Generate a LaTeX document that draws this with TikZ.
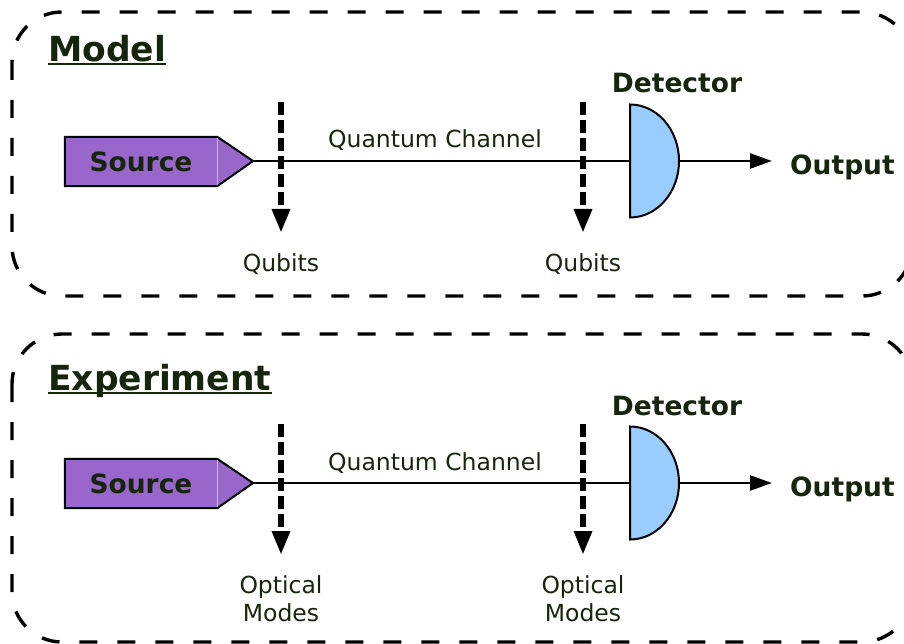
\documentclass[tikz,border=0pt]{standalone}
\usepackage{fontspec}
\setmainfont{DejaVu Sans}
\usetikzlibrary{arrows.meta,positioning,backgrounds}

\definecolor{ink}{RGB}{22,38,12}
\definecolor{srcpurple}{HTML}{9966CC}
\definecolor{detblue}{HTML}{99CCFF}

\tikzset{
  panel/.style={line width=3.4pt, dash pattern=on 18pt off 20pt, rounded corners=50pt},
  wire/.style={line width=2.5pt},
  probe/.style={line width=6pt, dash pattern=on 13pt off 5pt, -{Triangle[length=24pt,width=17pt]}},
  srcbox/.style={draw, line width=2pt, fill=srcpurple, line join=miter},
  detbox/.style={draw, line width=2pt, fill=detblue},
  heading/.style={text=ink, font=\fontsize{34.5}{40}\selectfont\bfseries, inner sep=0pt},
  bold/.style={text=ink, font=\fontsize{26.5}{31}\selectfont\bfseries, inner sep=0pt},
  lbl/.style={text=ink, font=\fontsize{23.5}{28}\selectfont, inner sep=0pt, align=center},
}

\begin{document}
\begin{tikzpicture}[x=1pt, y=-1pt]
  \useasboundingbox (0,0) rectangle (904,644);
  % one panel each: model on top, experiment below
  \foreach \p/\dy/\bot/\ty/\name/\what in {m/0/296/62/Model/Qubits, e/322/320/68/Experiment/{Optical\\Modes}} {
  \begin{scope}[yshift=-\dy pt]
    \draw[panel] (12,12) rectangle (912,\bot);
    \node[heading, anchor=base west] (ttl\p) at (48,\ty) {\name};
    \draw[ink, line width=2pt] ([yshift=-2.5pt]ttl\p.base west) -- ([yshift=-2.5pt]ttl\p.base east);

    \node[bold, minimum width=152pt, minimum height=49pt] (src\p) at (141,161.5) {Source};
    \coordinate (tip\p) at (253,161);
    \scoped[on background layer] {
      \draw[srcbox] (src\p.north west) -- (src\p.north east) -- (tip\p) -- (src\p.south east) -- (src\p.south west) -- cycle;
      \draw[srcpurple!45!white, line width=0.8pt] ([yshift=-1pt]src\p.north east) -- ([yshift=1pt]src\p.south east);
    }

    \coordinate (det\p) at (630,161);
    \coordinate (detr\p) at (679,161);
    \coordinate (o\p) at (772,161);
    \draw[detbox] (det\p) ++(0,-56.5) arc[start angle=90, end angle=-90, x radius=49pt, y radius=56.5pt] -- cycle;
    \node[bold, anchor=base] (dlab\p) at (677,93) {Detector};
    \node[bold, anchor=base west] (out\p) at (790,174.5) {Output};

    \draw[wire] (tip\p) -- (det\p);
    \draw[wire, -{Triangle[length=22pt,width=15pt]}] (detr\p) -- (o\p);
    \node[lbl, anchor=base] (qc\p) at (435,148) {Quantum Channel};

    \foreach \x [count=\k] in {281,583} {
      \coordinate (a\k\p) at (\x,102);
      \coordinate (b\k\p) at (\x,233);
      \draw[probe] (a\k\p) -- (b\k\p);
      \node[lbl, below=20pt of b\k\p] (q\k\p) {\what};
    }
  \end{scope}
  }
\end{tikzpicture}
\end{document}
